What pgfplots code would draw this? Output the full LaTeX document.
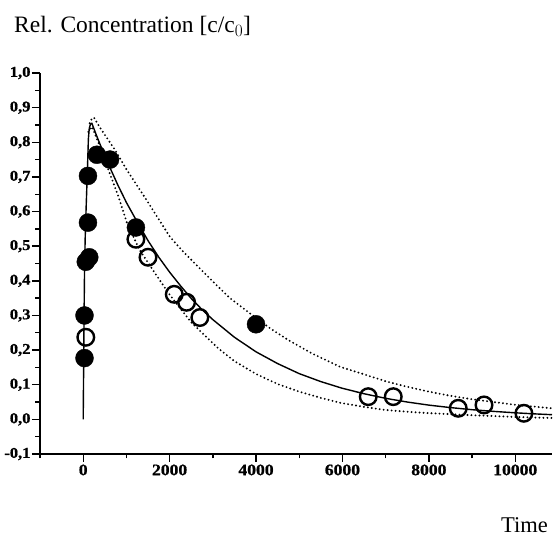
\documentclass[border=0pt]{standalone}
\usepackage{fontspec}
\setmainfont{Liberation Serif}
\newfontfamily\tickfont[FakeStretch=1.1, FakeBold=1]{Liberation Serif}
\usepackage{pgfplots}
\pgfplotsset{compat=1.18}
\begin{document}
\begin{tikzpicture}
\path[use as bounding box] (-40pt,-84pt) rectangle (515pt,454pt);
\begin{axis}[
  at={(0pt,0pt)}, anchor=south west,
  scale only axis, width=512pt, height=381pt,
  xmin=-1000, xmax=10850, ymin=-0.1, ymax=1.0,
  axis x line=bottom, axis y line=left,
  axis line style={-, line width=1.6pt},
  xtick={0,2000,...,10000},
  minor xtick={-1000,1000,3000,5000,7000,9000},
  ytick={-0.1,0,0.1,0.2,0.3,0.4,0.5,0.6,0.7,0.8,0.9,1.0},
  minor ytick={-0.05,0.05,0.15,0.25,0.35,0.45,0.55,0.65,0.75,0.85,0.95},
  scaled x ticks=false, scaled y ticks=false,
  tick align=outside,
  major tick length=8pt, minor tick length=4.5pt,
  every tick/.style={line width=1.4pt, black},
  /pgf/number format/assume math mode=true,
  xticklabel style={/pgf/number format/1000 sep={}, font=\tickfont\bfseries\fontsize{16}{18}\selectfont, yshift=1pt},
  yticklabel style={/pgf/number format/.cd, use comma, fixed, fixed zerofill, precision=1, /tikz/.cd, font=\tickfont\bfseries\fontsize{15}{17}\selectfont, xshift=2pt},
  clip=false,
]
% solid model curve
\addplot[black, line width=1.4pt, line join=round] coordinates {
(0,0) (10,0.15) (20,0.3) (30,0.42) (45,0.52) (70,0.62) (95,0.71) (110,0.77) (120,0.81) (140,0.84) (170,0.853) (200,0.855)
(300,0.822) (400,0.791) (500,0.761) (600,0.732) (800,0.677) (1000,0.626) (1250,0.570) (1500,0.516) (1750,0.468) (2000,0.425)
(2250,0.386) (2500,0.349) (2750,0.317) (3000,0.288) (3500,0.237) (4000,0.195) (4500,0.161) (5000,0.132) (5500,0.109)
(6000,0.0896) (6500,0.074) (7000,0.0607) (7500,0.050) (8000,0.0411) (8500,0.034) (9000,0.0279) (9500,0.023)
(10000,0.0189) (10500,0.0155) (10850,0.0135)
};
% upper dotted
\addplot[black, line width=2.1pt, line cap=round, dash pattern=on 0pt off 4pt] coordinates {
(150,0.855) (200,0.868) (250,0.871) (400,0.84) (736,0.778) (1000,0.722) (1467,0.633) (2007,0.527) (2315,0.484)
(3000,0.398) (3396,0.350) (3860,0.306) (4300,0.265) (4745,0.229) (5300,0.19) (5940,0.152) (6500,0.13) (7000,0.11)
(7500,0.094) (8000,0.08) (8500,0.068) (9000,0.058) (9500,0.05) (10000,0.042) (10500,0.036) (10850,0.032)
};
% lower dotted
\addplot[black, line width=2.1pt, line cap=round, dash pattern=on 0pt off 4pt] coordinates {
(120,0.83) (200,0.845) (350,0.80) (540,0.735) (810,0.645) (1005,0.57) (1300,0.49) (1700,0.415) (2000,0.36)
(2500,0.28) (3125,0.205) (3500,0.168) (4000,0.131) (4500,0.102) (5000,0.08) (5500,0.062) (5940,0.048)
(6500,0.036) (7000,0.027) (7500,0.022) (8000,0.018) (8500,0.015) (9000,0.012) (9500,0.0095) (10000,0.007)
(10500,0.005) (10850,0.004)
};
% open circles
\addplot[only marks, mark=o, mark size=8.3pt, mark options={line width=2.4pt, draw=black, fill=white}] coordinates {
(60,0.237) (1220,0.52) (1500,0.468) (2107,0.361) (2393,0.338) (2700,0.294)
(6597,0.0655) (7176,0.0655) (8680,0.032) (9276,0.0416) (10200,0.0176)
};
% filled circles
\addplot[only marks, mark=*, mark size=9pt, mark options={draw=black, fill=black}] coordinates {
(30,0.177) (30,0.30) (60,0.455) (140,0.468) (110,0.568) (110,0.703) (317,0.764) (620,0.75) (1220,0.554) (4000,0.2745)
};
\end{axis}
\node[anchor=base west, font=\fontsize{23.5}{26}\selectfont, inner sep=0pt] at (-26pt,421pt) {Rel. Concentration [c/c$_0$]};
\node[anchor=base east, font=\fontsize{22.5}{26}\selectfont, inner sep=0pt] at (508pt,-79pt) {Time};
\end{tikzpicture}
\end{document}
